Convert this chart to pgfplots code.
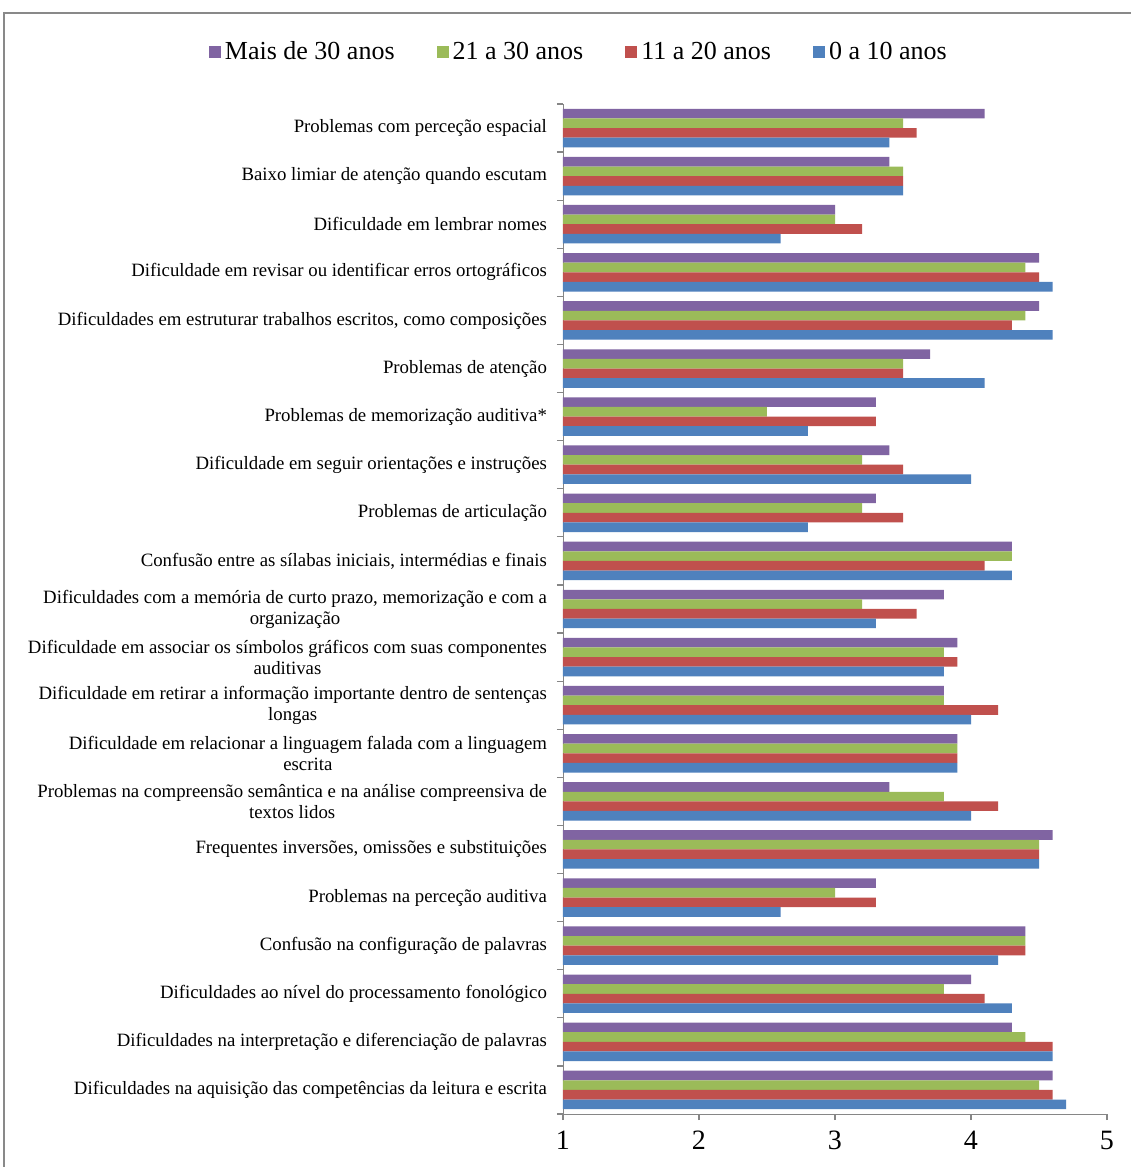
\documentclass[border=0pt]{standalone}
\usepackage{pgfplots}
\usepackage{pgfplotstable}
\usepackage{fontspec}
\setmainfont{Liberation Serif}
\pgfplotsset{compat=1.18}
\definecolor{cpurple}{HTML}{8064A2}
\definecolor{cgreen}{HTML}{9BBB59}
\definecolor{cred}{HTML}{C0504D}
\definecolor{cblue}{HTML}{4F81BD}
\definecolor{cframe}{HTML}{898989}
\definecolor{caxis}{HTML}{868686}
\pgfplotstableread{
y p g r b
0 4.6 4.5 4.6 4.7
1 4.3 4.4 4.6 4.6
2 4.0 3.8 4.1 4.3
3 4.4 4.4 4.4 4.2
4 3.3 3.0 3.3 2.6
5 4.6 4.5 4.5 4.5
6 3.4 3.8 4.2 4.0
7 3.9 3.9 3.9 3.9
8 3.8 3.8 4.2 4.0
9 3.9 3.8 3.9 3.8
10 3.8 3.2 3.6 3.3
11 4.3 4.3 4.1 4.3
12 3.3 3.2 3.5 2.8
13 3.4 3.2 3.5 4.0
14 3.3 2.5 3.3 2.8
15 3.7 3.5 3.5 4.1
16 4.5 4.4 4.3 4.6
17 4.5 4.4 4.5 4.6
18 3.0 3.0 3.2 2.6
19 3.4 3.5 3.5 3.5
20 4.1 3.5 3.6 3.4
}\data
\pgfplotsset{myleg/.style={legend image code/.code={\fill[##1] (0pt,-3pt) rectangle (6pt,3pt);}}}
\begin{document}
\begin{tikzpicture}
\useasboundingbox (0,0) rectangle (565.5pt,583.5pt);
\fill[white] (0,0) rectangle (565.5pt,583.5pt);
\draw[cframe, line width=1pt] (2pt,0pt) -- (2pt,577pt) -- (565.5pt,577pt);
\begin{axis}[
  at={(281.5pt,26.5pt)}, anchor=south west,
  width=272pt, height=505pt, scale only axis,
  xmin=1, xmax=5, ymin=-0.5, ymax=20.5,
  axis x line*=bottom, axis y line*=left,
  axis line style={caxis, -},
  tick align=outside,
  xtick={1,2,3,4,5},
  major tick length=3pt, minor tick length=3pt,
  tick style={caxis, line width=0.6pt},
  major y tick style={draw=none},
  ytick={0,...,20},
  minor ytick={-0.5,0.5,...,20.5},
  /pgf/number format/assume math mode=true,
  xticklabel style={font=\fontsize{14}{16}\selectfont, yshift=-2pt},
  yticklabel style={font=\fontsize{9.4}{10.5}\selectfont, align=center, xshift=-1.5pt},
  yticklabels={
    {Dificuldades na aquisição das competências da leitura e escrita},
    {Dificuldades na interpretação e diferenciação de palavras},
    {Dificuldades ao nível do processamento fonológico},
    {Confusão na configuração de palavras},
    {Problemas na perceção auditiva},
    {Frequentes inversões, omissões e substituições},
    {Problemas na compreensão semântica e na análise compreensiva de\\textos lidos},
    {Dificuldade em relacionar a linguagem falada com a linguagem\\escrita},
    {Dificuldade em retirar a informação importante dentro de sentenças\\longas},
    {Dificuldade em associar os símbolos gráficos com suas componentes\\auditivas},
    {Dificuldades com a memória de curto prazo, memorização e com a\\organização},
    {Confusão entre as sílabas iniciais, intermédias e finais},
    {Problemas de articulação},
    {Dificuldade em seguir orientações e instruções},
    {Problemas de memorização auditiva*},
    {Problemas de atenção},
    {Dificuldades em estruturar trabalhos escritos, como composições},
    {Dificuldade em revisar ou identificar erros ortográficos},
    {Dificuldade em lembrar nomes},
    {Baixo limiar de atenção quando escutam},
    {Problemas com perceção espacial}},
  legend style={at={(0.031,1.0515)}, anchor=center, draw=none,
    font=\fontsize{13}{15}\selectfont, legend columns=4,
    /tikz/every even column/.append style={column sep=19pt}},
  legend cell align=left,
]
\addplot[xbar, bar width=0.2, bar shift=0.3, fill=cpurple, draw=none, myleg] table[x=p,y=y]{\data};
\addplot[xbar, bar width=0.2, bar shift=0.1, fill=cgreen, draw=none, myleg] table[x=g,y=y]{\data};
\addplot[xbar, bar width=0.2, bar shift=-0.1, fill=cred, draw=none, myleg] table[x=r,y=y]{\data};
\addplot[xbar, bar width=0.2, bar shift=-0.3, fill=cblue, draw=none, myleg] table[x=b,y=y]{\data};
\legend{Mais de 30 anos, 21 a 30 anos, 11 a 20 anos, 0 a 10 anos}
\end{axis}
\end{tikzpicture}
\end{document}
